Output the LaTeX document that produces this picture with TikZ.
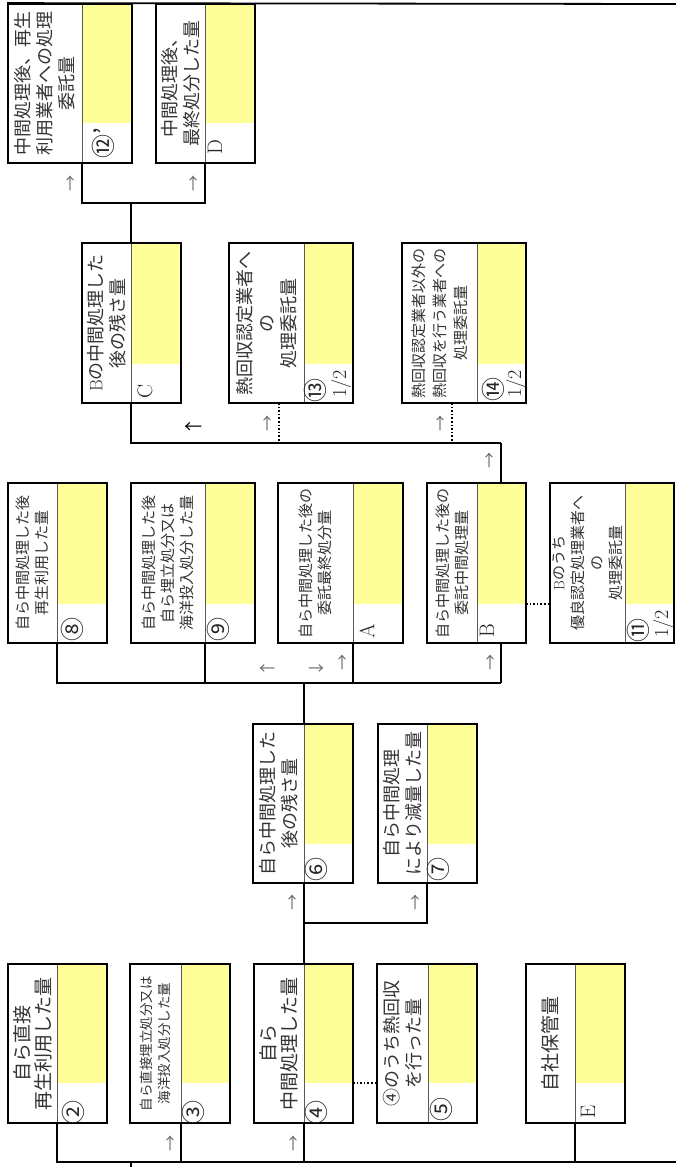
\documentclass[tikz,border=0pt]{standalone}
\usepackage{fontspec}
\newfontfamily\jp{Noto Sans CJK JP}
\usetikzlibrary{fit}
\definecolor{yel}{RGB}{255,255,153}
\tikzset{
  boxframe/.style={draw, line width=1.8pt, inner sep=0pt},
  divline/.style={draw=black!65, line width=0.8pt},
  conn/.style={draw, line width=1.8pt},
  dotconn/.style={draw, line width=1.6pt, dotted},
  boxtext/.style={rotate=90, align=center, text=black!80, inner sep=0pt},
  t14/.style={font=\jp\fontsize{13.5}{18}\selectfont},
  t15/.style={font=\jp\fontsize{15}{19}\selectfont},
  t15w/.style={font=\jp\fontsize{15}{21}\selectfont},
  t18/.style={font=\jp\fontsize{18}{22}\selectfont},
  t19/.style={font=\jp\fontsize{19}{21}\selectfont},
  lab/.style={rotate=90, inner sep=0pt, text=black!85, font=\jp\fontsize{24}{24}\selectfont},
  letlab/.style={rotate=90, inner sep=0pt, text=black!85, font=\fontsize{21}{21}\selectfont},
  half/.style={rotate=90, inner sep=0pt, text=black!85, font=\fontsize{20}{20}\selectfont},
  arr/.style={inner sep=0pt, text=black!60, font=\jp\fontsize{16}{16}\selectfont},
  arrb/.style={inner sep=0pt, text=black, font=\jp\fontsize{18}{18}\selectfont}
}
% #1 name, #2 x1, #3 y1, #4 x2, #5 y2, #6 divider x, #7 yellow bottom y, #8 text style, #9 text
\newcommand\wastebox[9]{%
  \fill[yel] (#6,#3) rectangle (#4,#7);
  \draw[divline] (#6,#3) -- (#6,#5);
  \node[boxframe, fit={(#2,#3) (#4,#5)}] (#1) {};
  \node[boxtext, #8] (#1-t) at ({(#2+#6)/2},{(#3+#5)/2}) {#9};
  \coordinate (#1-b) at (#6,#5);
  \coordinate (#1-u) at (#6,#3);
  \coordinate (#1-y) at (#4,#7);
  \coordinate (#1-yl) at (#2,#7);
}
\begin{document}
\begin{tikzpicture}[x=1pt, y=-1pt]
\useasboundingbox (0,0) rectangle (676,1167);
\fill[white] (0,0) rectangle (676,1167);

% ---- row 1 (bottom)
\wastebox{b2}{8}{964}{107}{1123}{57}{1083}{t19}{自ら直接\\再生利用した量}
\wastebox{b3}{130}{964}{230}{1123}{181}{1083}{t14}{自ら直接埋立処分又は\\海洋投入処分した量}
\wastebox{b4}{254}{964}{353}{1123}{304}{1083}{t19}{自ら\\中間処理した量}
\wastebox{b5}{377}{964}{477}{1123}{428}{1083}{t18}{④のうち熱回収\\を行った量}
\wastebox{bE}{526}{964}{625}{1123}{575}{1083}{t19}{自社保管量}

% ---- row 2
\wastebox{b6}{253}{724}{353}{883}{304}{844}{t18}{自ら中間処理した\\後の残さ量}
\wastebox{b7}{378}{724}{477}{883}{427}{844}{t18}{自ら中間処理\\により減量した量}

% ---- row 3
\wastebox{b8}{8}{483}{107}{643}{57}{604}{t15}{自ら中間処理した後\\再生利用した量}
\wastebox{b9}{131}{483}{255}{643}{205}{604}{t15}{自ら中間処理した後\\自ら埋立処分又は\\海洋投入処分した量}
\wastebox{bA}{278}{483}{403}{643}{353}{604}{t15}{自ら中間処理した後の\\委託最終処分量}
\wastebox{bB}{427}{483}{526}{643}{477}{604}{t15}{自ら中間処理した後の\\委託中間処理量}
\wastebox{b11}{550}{483}{674}{643}{625}{604}{t15}{{\rmfamily B}のうち\\優良認定処理業者へ\\の\\処理委託量}

% ---- row 4
\wastebox{bC}{82}{243}{181}{403}{131}{364}{t18}{{\rmfamily B}の中間処理した\\後の残さ量}
\wastebox{b13}{229}{243}{353}{403}{304}{364}{t18}{熱回収認定業者へ\\の\\処理委託量}
\wastebox{b14}{402}{243}{526}{403}{477}{364}{t15w}{熱回収認定業者以外の\\熱回収を行う業者への\\処理委託量}

% ---- row 5 (top)
\wastebox{b12}{8}{4}{132}{163}{82}{123}{t18}{中間処理後、再生\\利用業者への処理\\委託量}
\wastebox{bD}{156}{4}{255}{163}{205}{123}{t18}{中間処理後、\\最終処分した量}

% ---- labels
\node[lab] (l2) at (73,1112) {②};
\node[lab] (l3) at (193,1112) {③};
\node[lab] (l4) at (316,1112) {④};
\node[lab] (l5) at (441,1109) {⑤};
\node[letlab] (lE) at (588,1112) {E};
\node[lab] (l6) at (316,869) {⑥};
\node[lab] (l7) at (438,869) {⑦};
\node[lab] (l8) at (72,629) {⑧};
\node[lab] (l9) at (218,629) {⑨};
\node[letlab] (lA) at (367,631) {A};
\node[letlab] (lB) at (487,631) {B};
\node[lab] (l11) at (638,630) {⑪};
\node[half] (h11) at (663,624) {1/2};
\node[letlab] (lC) at (145,391) {C};
\node[lab] (l13) at (315,390) {⑬};
\node[half] (h13) at (341,384) {1/2};
\node[lab] (l14) at (493,389) {⑭};
\node[half] (h14) at (516,384) {1/2};
\node[lab] (l12) at (103,143) {⑫’};
\node[letlab] (lD) at (215,147) {D};

% ---- connector coordinates
\coordinate (botR) at (676,1162);
\coordinate (stub) at (131,1167);
\coordinate (j7) at (304,923);
\coordinate (r3R) at (501,683);
\coordinate (bBm-b) at (501,643);
\coordinate (bBm-u) at (501,483);
\coordinate (r4R) at (501,443);
\coordinate (d13) at (279,403);
\coordinate (d14) at (452,403);
\coordinate (j5) at (131,203);
\coordinate (topR) at (676,4);

% ---- connectors
\draw[conn] (b2-b) |- (botR);
\draw[conn] (b3-b) -- (b3-b |- botR);
\draw[conn] (b4-b) -- (b4-b |- botR);
\draw[conn] (bE-b) -- (bE-b |- botR);
\draw[conn] (stub |- botR) -- (stub);
\draw[dotconn] (b4-y) -- (b5-yl);
\draw[conn] (b4-u) -- (b6-b);
\draw[conn] (b7-b) |- (j7);
\draw[conn] (b6-u) -- (b6-u |- r3R);
\draw[conn] (b8-b) |- (r3R);
\draw[conn] (b9-b) -- (b9-b |- r3R);
\draw[conn] (bA-b) -- (bA-b |- r3R);
\draw[conn] (bBm-b) -- (r3R);
\draw[dotconn] (bB-y) -- (b11-yl);
\draw[conn] (bBm-u) -- (r4R);
\draw[conn] (bC-b) |- (r4R);
\draw[dotconn] (d13) -- (d13 |- r4R);
\draw[dotconn] (d14) -- (d14 |- r4R);
\draw[conn] (bC-u) -- (j5);
\draw[conn] (b12-b) -- (b12-b |- j5) -- (bD-b |- j5) -- (bD-b);
\draw[conn] (b12.north west) -- (topR);

% ---- arrow marks
\node[arr] (a1) at (170,1143) {↑};
\node[arr] (a2) at (293,1143) {↑};
\node[arr] (a3) at (292,902) {↑};
\node[arr] (a4) at (415,902) {↑};
\node[arr] (a5) at (267,670) {←};
\node[arr] (a6) at (316,670) {→};
\node[arr] (a7) at (342,662) {↑};
\node[arr] (a8) at (490,662) {↑};
\node[arr] (a9) at (489,460) {↑};
\node[arrb] (a10) at (193,428) {←};
\node[arr] (a11) at (267,423) {↑};
\node[arr] (a12) at (440,423) {↑};
\node[arr] (a13) at (70,183) {↑};
\node[arr] (a14) at (193,183) {↑};
\end{tikzpicture}
\end{document}
